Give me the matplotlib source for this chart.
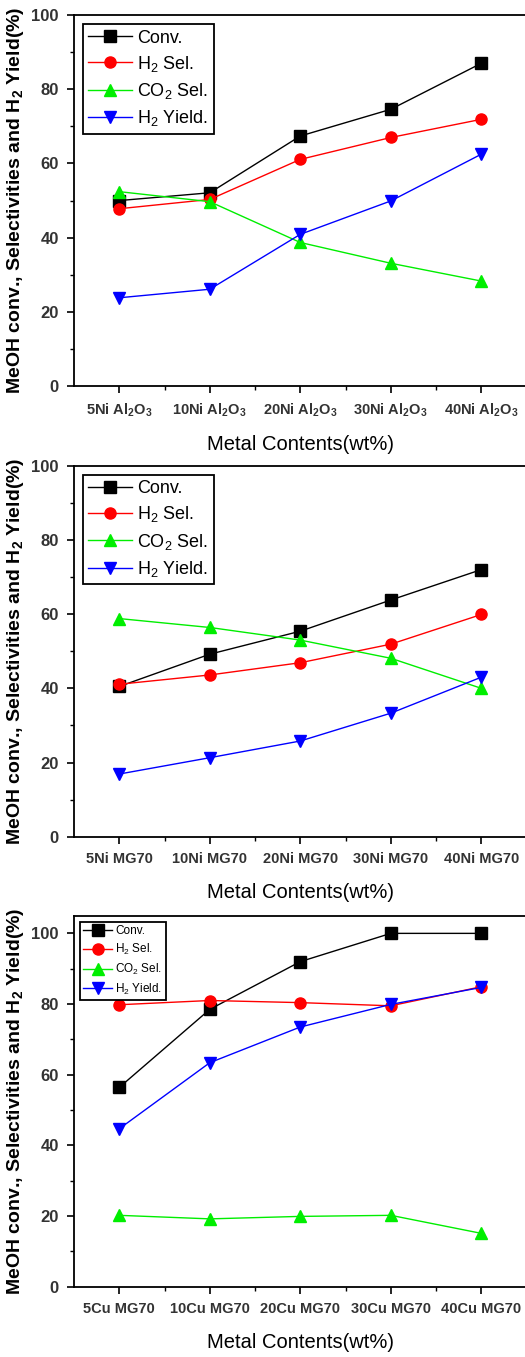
import matplotlib
matplotlib.use("Agg")
import matplotlib.pyplot as plt
from matplotlib.ticker import MultipleLocator

plt.rcParams['font.family'] = ['Liberation Sans', 'DejaVu Sans']
plt.rcParams['mathtext.default'] = 'regular'

# data
labels_ni_al = ["5Ni Al$_2$O$_3$", "10Ni Al$_2$O$_3$", "20Ni Al$_2$O$_3$", "30Ni Al$_2$O$_3$", "40Ni Al$_2$O$_3$"]
conv_ni_al = [50.0, 52.1, 67.4, 74.6, 87.0]
h2sel_ni_al = [47.8, 50.3, 61.1, 67.0, 71.9]
co2sel_ni_al = [52.4, 49.7, 38.7, 33.1, 28.3]
h2yield_ni_al = [23.8, 26.1, 40.9, 49.9, 62.5]

labels_ni_mg = ["5Ni MG70", "10Ni MG70", "20Ni MG70", "30Ni MG70", "40Ni MG70"]
conv_ni_mg = [40.5, 49.2, 55.4, 63.8, 72.0]
h2sel_ni_mg = [41.1, 43.6, 46.9, 51.9, 59.9]
co2sel_ni_mg = [58.8, 56.4, 53.0, 48.1, 40.0]
h2yield_ni_mg = [16.9, 21.3, 25.8, 33.3, 43.0]

labels_cu_mg = ["5Cu MG70", "10Cu MG70", "20Cu MG70", "30Cu MG70", "40Cu MG70"]
conv_cu_mg = [56.4, 78.5, 92.0, 100.0, 100.0]
h2sel_cu_mg = [79.8, 81.0, 80.4, 79.5, 84.9]
co2sel_cu_mg = [20.2, 19.2, 19.9, 20.2, 15.1]
h2yield_cu_mg = [44.7, 63.4, 73.5, 79.9, 84.7]

series_names = ["Conv.", "H$_2$ Sel.", "CO$_2$ Sel.", "H$_2$ Yield."]
colors = ["black", "#ff0000", "#00ee00", "#0000ff"]
markers = ["s", "o", "^", "v"]

panels = [
    (labels_ni_al, [conv_ni_al, h2sel_ni_al, co2sel_ni_al, h2yield_ni_al], 100, 13, 0.4),
    (labels_ni_mg, [conv_ni_mg, h2sel_ni_mg, co2sel_ni_mg, h2yield_ni_mg], 100, 13, 0.4),
    (labels_cu_mg, [conv_cu_mg, h2sel_cu_mg, co2sel_cu_mg, h2yield_cu_mg], 105, 8.5, 0.4),
]
bottoms = [0.7155, 0.3834, 0.0518]

fig = plt.figure(figsize=(5.25, 13.57), dpi=100)

for (labels, data, ytop, legsize, legspace), b in zip(panels, bottoms):
    ax = fig.add_axes([0.141, b, 0.862, 0.2734])
    x = list(range(len(labels)))
    for vals, name, c, m in zip(data, series_names, colors, markers):
        ax.plot(x, vals, color=c, marker=m, markersize=8, linewidth=1, label=name)
    ax.set_xlim(-0.5, 4.5)
    ax.set_ylim(0, ytop)
    ax.set_xticks(x)
    ax.set_xticklabels(labels, fontsize=10.5, fontweight='bold', color='#333333')
    ax.yaxis.set_major_locator(MultipleLocator(20))
    ax.yaxis.set_minor_locator(MultipleLocator(10))
    ax.set_xticks([i + 0.5 for i in x[:-1]], minor=True)
    for t in ax.get_yticklabels():
        t.set_fontsize(12)
        t.set_fontweight('bold')
        t.set_color('#333333')
    ax.tick_params(which='major', direction='out', length=5, width=1.2, pad=6)
    ax.tick_params(which='minor', direction='out', length=3, width=1)
    ax.spines['right'].set_visible(False)
    for s in ['left', 'bottom', 'top']:
        ax.spines[s].set_linewidth(1.3)
    ax.set_xlabel("Metal Contents(wt%)", fontsize=14.5, labelpad=12)
    ax.set_ylabel("MeOH conv., Selectivities and H$_2$ Yield(%)", fontsize=14,
                  fontweight='bold', labelpad=4)
    leg = ax.legend(loc='upper left', fontsize=legsize, fancybox=False,
                    edgecolor='black', framealpha=1, borderaxespad=0.5,
                    handlelength=2.4, handletextpad=0.3, labelspacing=legspace,
                    borderpad=0.3)
    leg.get_frame().set_linewidth(1.3)

fig.savefig("out.png", dpi=100)
